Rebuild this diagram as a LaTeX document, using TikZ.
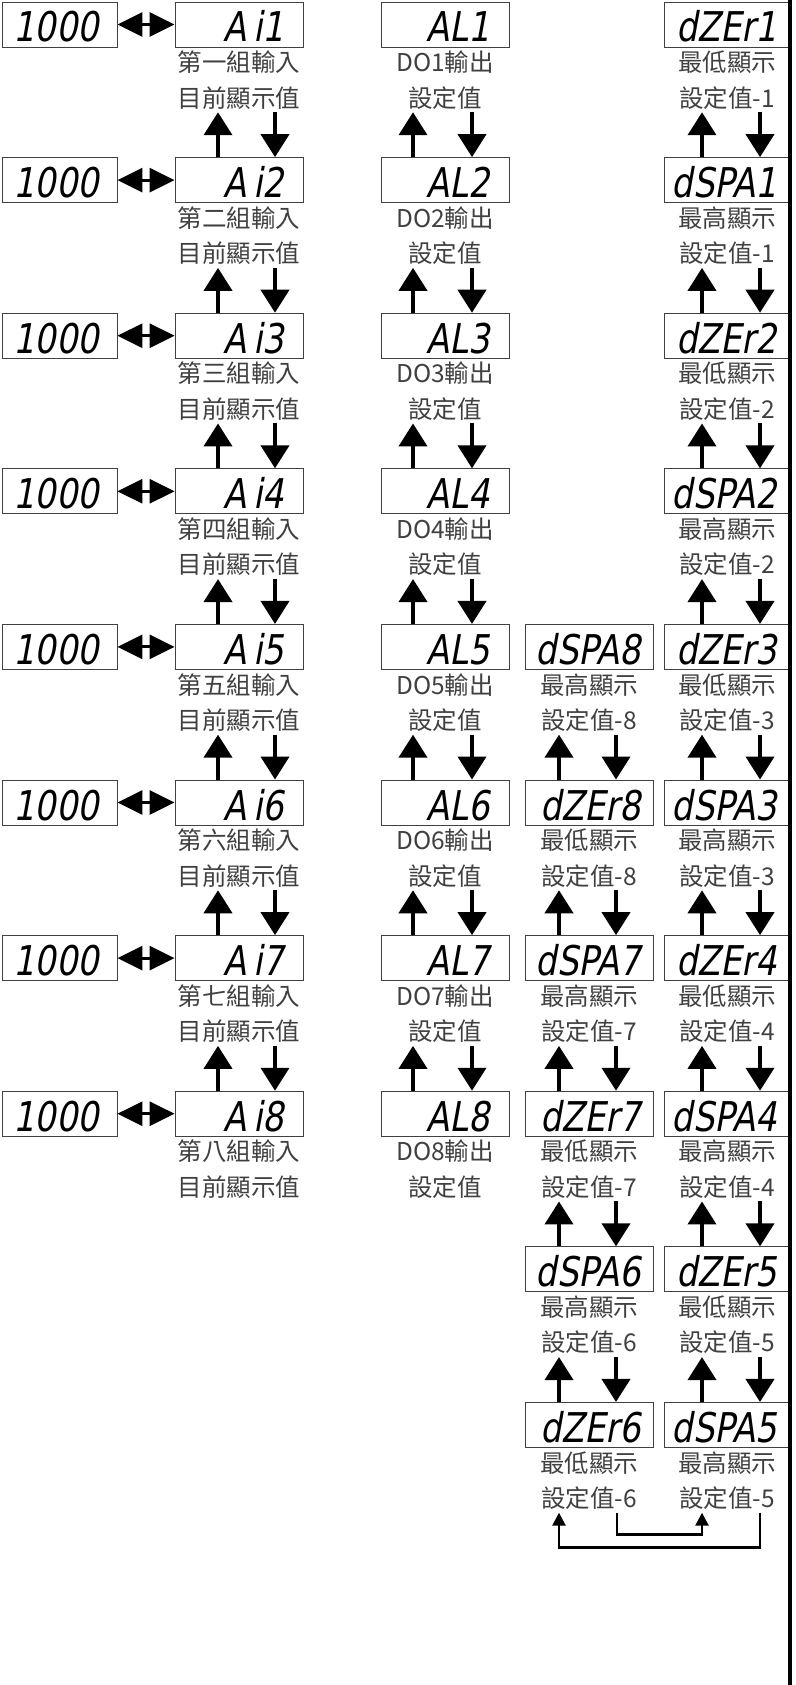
\documentclass[tikz,border=0pt]{standalone}
\usepackage{fontspec}
\usepackage{tikz}
\usetikzlibrary{arrows.meta, positioning}

\newfontfamily\cjk{Noto Sans CJK TC}
\newfontfamily\segfont[FakeStretch=0.82,FakeSlant=0.18]{DejaVu Sans}
\newcommand{\lcd}[1]{\llap{#1}}

\tikzset{
    disp/.style={draw=black!75, line width=0.9pt, minimum height=45pt,
        inner xsep=19pt, inner ysep=0pt, text width=90pt, align=right,
        text height=35pt, text depth=0pt, font=\segfont\fontsize{41}{41}\selectfont},
    shortbox/.style={inner xsep=18pt, text width=79pt},
    widebox/.style={inner xsep=12pt, text width=104pt},
    rightbox/.style={inner xsep=13pt, text width=100pt},
    lab/.style={inner sep=0pt, text height=17pt, text depth=5pt,
        font=\cjk\fontsize{24.5}{28}\selectfont, text=black!75},
    bigar/.style={line width=4pt, -{Triangle[width=28pt,length=23pt]}},
    swapar/.style={line width=3pt, {Triangle[width=24pt,length=25pt]}-{Triangle[width=24pt,length=25pt]}},
    loopar/.style={line width=2.5pt, -{Triangle[width=13pt,length=13pt]}}
}

\begin{document}
\begin{tikzpicture}[x=1pt, y=-1pt]
    \useasboundingbox (0,0) rectangle (795,1685);

    % 1. 各組輸入目前顯示值 (左邊兩欄)
    \foreach \k/\n in {1/一,2/二,3/三,4/四,5/五,6/六,7/七,8/八}{
        \node[disp, shortbox] (thou-\k) at (59.5, {24.5+155.6*(\k-1)}) {\lcd{1000}};
        \node[disp] (ai-\k) at (239, {24.5+155.6*(\k-1)}) {\lcd{A\,i\k}};
        \node[lab, below=7pt of ai-\k] (ai-\k-t) {第{\n}組輸入};
        \node[lab, below=13pt of ai-\k-t] (ai-\k-b) {目前顯示值};
        \draw[swapar] (thou-\k) -- (ai-\k);
    }

    % 2. DO 輸出設定值
    \foreach \k in {1,...,8}{
        \node[disp] (al-\k) at (445, {24.5+155.6*(\k-1)}) {\lcd{AL\k}};
        \node[lab, below=7pt of al-\k] (al-\k-t) {DO{\k}輸出};
        \node[lab, below=13pt of al-\k-t] (al-\k-b) {設定值};
    }

    % 3. 最低/最高顯示設定值 (右邊兩欄)
    \foreach \k/\txt/\lh/\m in {1/dZEr/低/1, 2/dSPA/高/1, 3/dZEr/低/2, 4/dSPA/高/2,
            5/dZEr/低/3, 6/dSPA/高/3, 7/dZEr/低/4, 8/dSPA/高/4, 9/dZEr/低/5, 10/dSPA/高/5}{
        \node[disp, rightbox] (d-\k) at (727, {24.5+155.6*(\k-1)}) {\lcd{\txt\m}};
        \node[lab, below=7pt of d-\k] (d-\k-t) {最{\lh}顯示};
        \node[lab, below=13pt of d-\k-t] (d-\k-b) {設定值-\m};
    }
    \foreach \k/\txt/\lh/\m in {5/dSPA/高/8, 6/dZEr/低/8, 7/dSPA/高/7,
            8/dZEr/低/7, 9/dSPA/高/6, 10/dZEr/低/6}{
        \node[disp, widebox] (c-\k) at (589, {24.5+155.6*(\k-1)}) {\lcd{\txt\m}};
        \node[lab, below=7pt of c-\k] (c-\k-t) {最{\lh}顯示};
        \node[lab, below=13pt of c-\k-t] (c-\k-b) {設定值-\m};
    }

    % 4. 上下切換箭頭
    \foreach \k [evaluate=\k as \j using int(\k+1)] in {1,...,7}{
        \draw[bigar] ([xshift=-21pt]ai-\j.north) -- ([xshift=-21pt]ai-\k-b.south);
        \draw[bigar] ([xshift=36pt]ai-\k-b.south) -- ([xshift=36pt]ai-\j.north);
        \draw[bigar] ([xshift=-32pt]al-\j.north) -- ([xshift=-32pt]al-\k-b.south);
        \draw[bigar] ([xshift=27pt]al-\k-b.south) -- ([xshift=27pt]al-\j.north);
    }
    \foreach \k [evaluate=\k as \j using int(\k+1)] in {1,...,9}{
        \draw[bigar] ([xshift=-25pt]d-\j.north) -- ([xshift=-25pt]d-\k-b.south);
        \draw[bigar] ([xshift=33pt]d-\k-b.south) -- ([xshift=33pt]d-\j.north);
    }
    \foreach \k [evaluate=\k as \j using int(\k+1)] in {5,...,9}{
        \draw[bigar] ([xshift=-30pt]c-\j.north) -- ([xshift=-30pt]c-\k-b.south);
        \draw[bigar] ([xshift=27pt]c-\k-b.south) -- ([xshift=27pt]c-\j.north);
    }

    % 5. 最後一組回圈
    \draw[loopar] ([xshift=28pt]c-10-b.south) -- ++(0,22) -| ([xshift=-25pt]d-10-b.south);
    \draw[loopar] ([xshift=33pt]d-10-b.south) -- ++(0,35) -| ([xshift=-30pt]c-10-b.south);

    % 右邊粗線
    \draw[line width=4pt] (790,0) -- (790,1685);
\end{tikzpicture}
\end{document}
